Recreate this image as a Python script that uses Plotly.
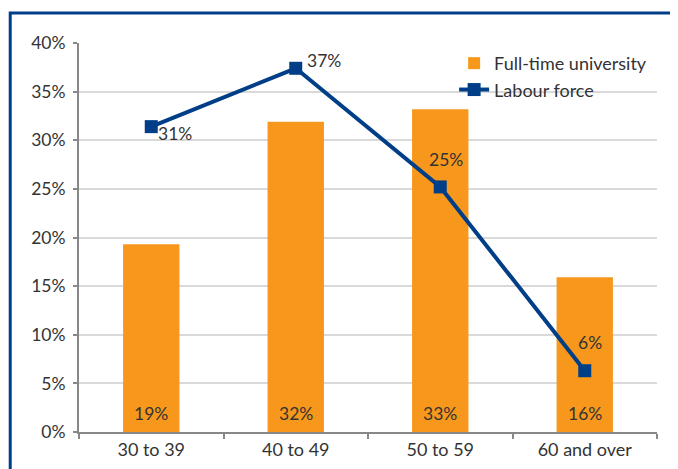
import plotly.graph_objects as go

age_groups = ["30 to 39", "40 to 49", "50 to 59", "60 and over"]
university = [19.3, 31.9, 33.2, 15.9]
labour_force = [31.4, 37.4, 25.2, 6.3]
y_ticks = [0, 5, 10, 15, 20, 25, 30, 35, 40]

orange = "#F7981D"
blue = "#003F87"
txt = "#333333"

fig = go.Figure()

fig.add_trace(go.Bar(
    x=age_groups,
    y=university,
    name="Full-time university",
    marker=dict(color=orange, line=dict(width=0)),
    width=0.39,
))

fig.add_trace(go.Scatter(
    x=age_groups,
    y=labour_force,
    name="Labour force",
    mode="lines+markers",
    line=dict(color=blue, width=4),
    marker=dict(symbol="square", size=13, color=blue),
))

# bar labels sit a little above the base
for x, v in zip(age_groups, university):
    fig.add_annotation(x=x, y=0, text=f"{round(v)}%", showarrow=False,
                       yanchor="bottom", yshift=6, font=dict(color=txt, size=17.5))

# point labels, nudged to where the original puts them
shifts = [(24, -7), (28, 8), (6, 27), (5, 28)]
for x, y, (dx, dy) in zip(age_groups, labour_force, shifts):
    fig.add_annotation(x=x, y=y, text=f"{round(y)}%", showarrow=False,
                       xshift=dx, yshift=dy, font=dict(color=txt, size=17.5))

# dark blue frame round the chart
fig.add_shape(type="rect", xref="paper", yref="paper",
              x0=-0.119, x1=1.12, y0=-0.3, y1=1.077,
              line=dict(color=blue, width=3), layer="below")

fig.update_layout(
    width=678, height=469,
    margin=dict(l=71, r=29, t=35, b=45),
    paper_bgcolor="white", plot_bgcolor="white",
    font=dict(family="Lato, Open Sans, sans-serif", size=17, color=txt),
    showlegend=True,
    legend=dict(x=0.649, y=0.995, xanchor="left", yanchor="top",
                bgcolor="rgba(0,0,0,0)", font=dict(size=18, color=txt),
                tracegroupgap=0, itemwidth=30),
    xaxis=dict(showline=True, linecolor="#888888", linewidth=2,
               ticks="outside", tickson="boundaries", ticklen=5,
               tickcolor="#888888", tickwidth=2, showgrid=False,
               tickfont=dict(size=18)),
    yaxis=dict(range=[0, 40], tickvals=y_ticks,
               ticktext=[f"{v}%" for v in y_ticks],
               showline=True, linecolor="#888888", linewidth=2,
               ticks="outside", ticklen=4, tickcolor="#888888", tickwidth=2,
               ticklabelstandoff=4,
               showgrid=True, gridcolor="#D9D9D9", gridwidth=1.5,
               zeroline=False, tickfont=dict(size=17.5)),
)

fig.write_html("out.html")
